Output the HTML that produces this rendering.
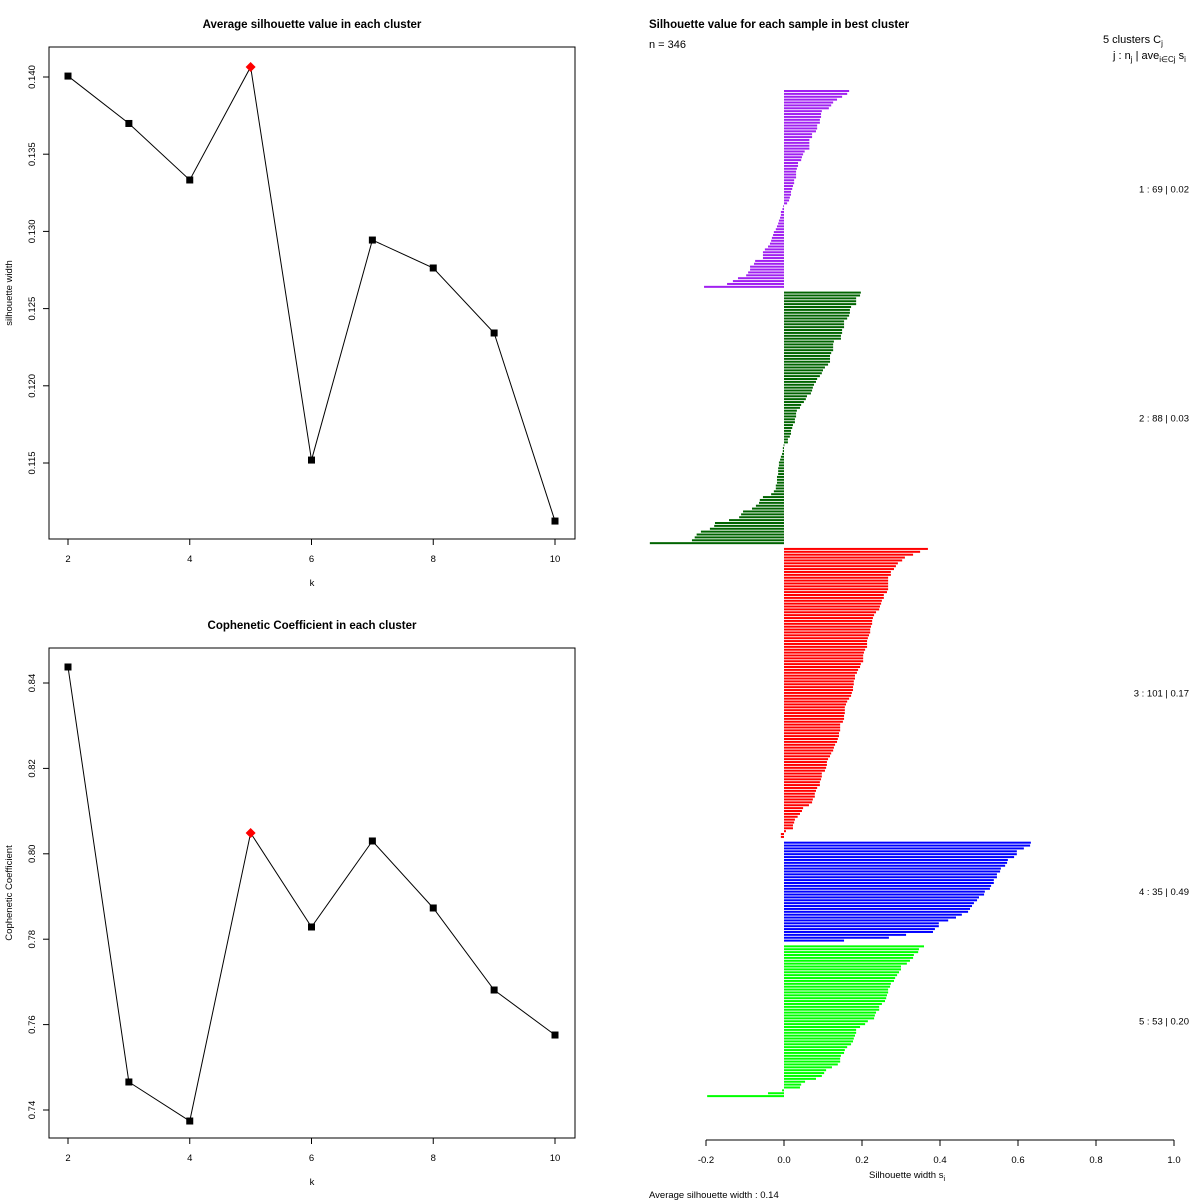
<!DOCTYPE html>
<html><head><meta charset="utf-8"><style>
html,body{margin:0;padding:0;background:#fff}
svg{display:block;font-family:"Liberation Sans",Arial,sans-serif}
</style></head><body>
<svg id="chart" width="1200" height="1200" viewBox="0 0 1200 1200" xmlns="http://www.w3.org/2000/svg">
<rect width="1200" height="1200" fill="#fff"/>
<g id="p1"></g>
<g id="p2"></g>
<g id="p3"></g>
</svg>
<script>
const ks = [2,3,4,5,6,7,8,9,10];
const silAvg = [0.14006,0.13699,0.13333,0.14065,0.11519,0.12944,0.12763,0.12342,0.11124];
const silTicks = [0.115,0.120,0.125,0.130,0.135,0.140];
const cophVals = [0.84375,0.74656,0.73742,0.80487,0.78286,0.80300,0.78731,0.76810,0.75756];
const cophTicks = [0.74,0.76,0.78,0.80,0.82,0.84];
const kTicks = [2,4,6,8,10];
const bestIndex = 3;

const clusterIds = [1,2,3,4,5];
const clusterSizes = [69,88,101,35,53];
const clusterAvg = ["0.02","0.03","0.17","0.49","0.20"];
const clusterColors = ["#a020f0","#006400","#ff0000","#0000ff","#00ff00"];
const sil1 = [0.167,0.162,0.149,0.136,0.126,0.121,0.115,0.097,0.095,0.095,0.092,0.092,0.085,0.085,0.082,0.072,0.072,0.065,0.065,0.065,0.065,0.053,0.049,0.046,0.044,0.036,0.036,0.033,0.031,0.031,0.031,0.026,0.026,0.023,0.021,0.018,0.018,0.015,0.013,0.008,
-0.002,-0.004,-0.008,-0.008,-0.010,-0.013,-0.015,-0.018,-0.021,-0.026,-0.028,-0.031,-0.033,-0.036,-0.041,-0.049,-0.054,-0.054,-0.054,-0.074,-0.077,-0.087,-0.087,-0.092,-0.097,-0.118,-0.131,-0.146,-0.205];
const sil2 = [0.197,0.195,0.185,0.185,0.185,0.172,0.169,0.169,0.167,0.162,0.154,0.154,0.154,0.149,0.149,0.146,0.146,0.128,0.126,0.126,0.126,0.121,0.118,0.118,0.118,0.113,0.105,0.100,0.097,0.092,0.085,0.082,0.077,0.074,0.072,0.069,0.059,0.056,0.051,0.044,0.041,0.033,0.031,0.031,0.028,0.028,0.023,0.021,0.018,0.018,0.015,0.010,0.010,
-0.001,-0.003,-0.003,-0.005,-0.008,-0.010,-0.013,-0.013,-0.015,-0.015,-0.015,-0.018,-0.018,-0.018,-0.021,-0.021,-0.026,-0.033,-0.054,-0.062,-0.064,-0.072,-0.082,-0.105,-0.110,-0.115,-0.141,-0.177,-0.179,-0.190,-0.213,-0.224,-0.229,-0.236,-0.344];
const sil3 = [0.369,0.349,0.331,0.310,0.303,0.292,0.287,0.282,0.274,0.274,0.267,0.267,0.267,0.267,0.267,0.264,0.256,0.256,0.251,0.249,0.246,0.244,0.236,0.231,0.228,0.226,0.226,0.223,0.221,0.221,0.218,0.215,0.213,0.213,0.213,0.208,0.205,0.203,0.203,0.203,0.197,0.195,0.190,0.187,0.182,0.182,0.179,0.179,0.177,0.177,0.174,0.172,0.167,0.162,0.159,0.156,0.156,0.156,0.154,0.154,0.151,0.144,0.144,0.144,0.141,0.141,0.138,0.136,0.131,0.128,0.126,0.121,0.118,0.113,0.110,0.110,0.108,0.105,0.097,0.097,0.095,0.092,0.092,0.085,0.082,0.079,0.079,0.074,0.072,0.064,0.049,0.046,0.041,0.035,0.028,0.026,0.023,0.023,0.005,-0.008,-0.008];
const sil4 = [0.633,0.631,0.615,0.597,0.597,0.590,0.574,0.572,0.567,0.556,0.554,0.546,0.546,0.538,0.538,0.531,0.528,0.515,0.513,0.500,0.495,0.487,0.482,0.477,0.472,0.456,0.441,0.421,0.397,0.397,0.387,0.382,0.313,0.269,0.154];
const sil5 = [0.359,0.346,0.344,0.333,0.331,0.323,0.315,0.300,0.300,0.295,0.290,0.285,0.282,0.274,0.272,0.267,0.267,0.264,0.262,0.259,0.251,0.244,0.244,0.236,0.233,0.231,0.215,0.208,0.195,0.185,0.185,0.182,0.179,0.177,0.172,0.162,0.156,0.154,0.146,0.144,0.144,0.138,0.123,0.108,0.103,0.097,0.082,0.054,0.044,0.041,-0.005,-0.041,-0.197];
const silTicksX = [-0.2,0,0.2,0.4,0.6,0.8,1.0];
const silTickLabels = ["-0.2","0.0","0.2","0.4","0.6","0.8","1.0"];

const NS = "http://www.w3.org/2000/svg";
function mk(parent, tag, attrs, text){
  const e = document.createElementNS(NS, tag);
  for (const k in attrs) e.setAttribute(k, attrs[k]);
  if (text !== undefined) e.textContent = text;
  parent.appendChild(e);
  return e;
}

function linePanel(g, box, vals, ticks, tickFmt, yMap, title, ylab, nameP){
  const xMap = k => 68 + (k-2)*60.875;
  const t = mk(g,'text',{x:(box.x0+box.x1)/2,y:box.y0-19,'text-anchor':'middle','font-size':11.5,'font-weight':'bold'},title);
  
  
  const r = mk(g,'rect',{x:box.x0,y:box.y0,width:box.x1-box.x0,height:box.y1-box.y0,fill:'none',stroke:'#000','stroke-width':1});
  
  
  kTicks.forEach(k=>{
    const x = xMap(k);
    const tk = mk(g,'line',{x1:x,x2:x,y1:box.y1,y2:box.y1+6,stroke:'#000'});
    
    
    const tl = mk(g,'text',{x:x,y:box.y1+23,'text-anchor':'middle','font-size':9.5},String(k));
    
    
  });
  ticks.forEach(v=>{
    const y = yMap(v);
    const tk = mk(g,'line',{x1:box.x0-6,x2:box.x0,y1:y,y2:y,stroke:'#000'});
    
    
    const tl = mk(g,'text',{x:0,y:0,'text-anchor':'middle','font-size':9.5,transform:`translate(${box.x0-14},${y}) rotate(-90)`},tickFmt(v));
    
    
  });
  const xl = mk(g,'text',{x:(box.x0+box.x1)/2,y:box.y1+47,'text-anchor':'middle','font-size':9.5},'k');
  
  
  const yl = mk(g,'text',{x:0,y:0,'text-anchor':'middle','font-size':9.5,transform:`translate(12,${(box.y0+box.y1)/2}) rotate(-90)`},ylab);
  
  
  const pts = ks.map((k,i)=>xMap(k)+','+yMap(vals[i])).join(' ');
  const pl = mk(g,'polyline',{points:pts,fill:'none',stroke:'#000','stroke-width':1});
  
  
  ks.forEach((k,i)=>{
    const x=xMap(k), y=yMap(vals[i]);
    if (i===bestIndex){
      const d = mk(g,'polygon',{points:`${x},${y-5} ${x+5},${y} ${x},${y+5} ${x-5},${y}`,fill:'#ff0000'});
      
      
    } else {
      const p = mk(g,'rect',{x:x-3.5,y:y-3.5,width:7,height:7,fill:'#000'});
      
      
    }
  });
}

linePanel(document.getElementById('p1'),{x0:49,x1:575,y0:47,y1:539},silAvg,silTicks,v=>v.toFixed(3),
  v=>77+(0.140-v)*15440,'Average silhouette value in each cluster','silhouette width','avg-sil');
linePanel(document.getElementById('p2'),{x0:49,x1:575,y0:648,y1:1138},cophVals,cophTicks,v=>v.toFixed(2),
  v=>683+(0.84-v)*4270,'Cophenetic Coefficient in each cluster','Cophenetic Coefficient','coph');

const g3 = document.getElementById('p3');
const sx = v => 784 + v*390;
const groups = [sil1,sil2,sil3,sil4,sil5];
const pitch = 1008/350;
let slot = 0;
groups.forEach((arr,ci)=>{
  const startSlot = slot;
  arr.forEach(v=>{
    const y = 90 + slot*pitch;
    const x0 = Math.min(sx(0),sx(v)), w = Math.abs(sx(v)-sx(0));
    const b = mk(g3,'rect',{x:x0,y:y,width:Math.max(w,0.8),height:2,fill:clusterColors[ci]});
    
    
    slot++;
  });
  const midY = 90 + ((startSlot + slot)/2)*pitch + 3;
  const lab = mk(g3,'text',{x:1189,y:midY,'text-anchor':'end','font-size':9.5,'xml:space':'preserve'},
    `${clusterIds[ci]} :   ${clusterSizes[ci]}  |  ${clusterAvg[ci]}`);
  
  
  slot++;
});
const ax = mk(g3,'line',{x1:sx(-0.2),x2:sx(1.0),y1:1140,y2:1140,stroke:'#000'});


silTicksX.forEach((v,i)=>{
  const t = mk(g3,'line',{x1:sx(v),x2:sx(v),y1:1140,y2:1146,stroke:'#000'});
  
  
  const l = mk(g3,'text',{x:sx(v),y:1163,'text-anchor':'middle','font-size':9.5},silTickLabels[i]);
  
  
});
</script>
<svg style="position:absolute;left:0;top:0" width="1200" height="1200">
<text x="649" y="28" font-size="11.5" font-weight="bold" font-family="Liberation Sans, sans-serif">Silhouette value for each sample in best cluster</text>
<text x="649" y="48" font-size="11" font-family="Liberation Sans, sans-serif">n = 346</text>
<text x="1103" y="43" font-size="11" font-family="Liberation Sans, sans-serif">5  clusters  C<tspan dy="3" font-size="8">j</tspan></text>
<text x="1113" y="59" font-size="11" font-family="Liberation Sans, sans-serif">j :  n<tspan dy="3" font-size="8">j</tspan><tspan dy="-3"> | ave</tspan><tspan dy="3" font-size="8">i∈Cj</tspan><tspan dy="-3">  s</tspan><tspan dy="3" font-size="8">i</tspan></text>
<text x="869" y="1178" font-size="9.5" font-family="Liberation Sans, sans-serif">Silhouette width s<tspan dy="3" font-size="7">i</tspan></text>
<text x="649" y="1198" font-size="9.5" font-family="Liberation Sans, sans-serif">Average silhouette width :  0.14</text>
</svg>
</body></html>
